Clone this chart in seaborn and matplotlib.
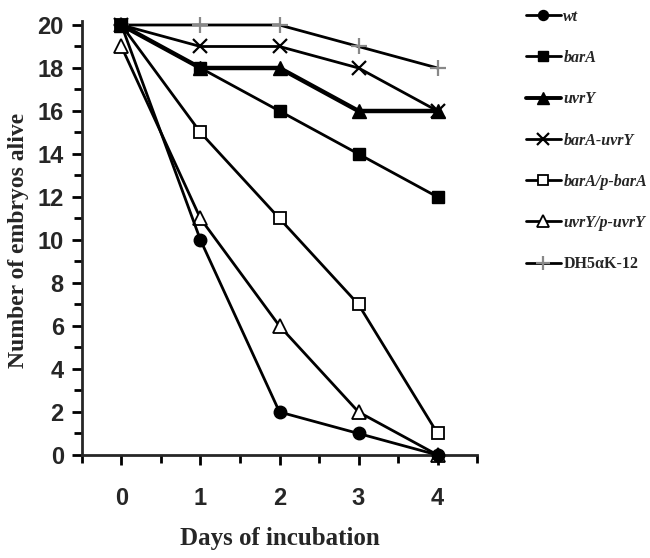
import matplotlib
matplotlib.use("Agg")
import matplotlib.pyplot as plt
import seaborn as sns
import pandas as pd
from matplotlib.lines import Line2D
from matplotlib.ticker import MultipleLocator

days = [0, 1, 2, 3, 4]
wt = [20, 10, 2, 1, 0]
barA = [20, 18, 16, 14, 12]
uvrY = [20, 18, 18, 16, 16]
barA_uvrY = [20, 19, 19, 18, 16]
barA_pbarA = [20, 15, 11, 7, 1]
uvrY_puvrY = [19, 11, 6, 2, 0]
dh5a = [20, 20, 20, 19, 18]

labels = ["wt", "barA", "uvrY", "barA-uvrY", "barA/p-barA", "uvrY/p-uvrY", "DH5αK-12"]
series = [wt, barA, uvrY, barA_uvrY, barA_pbarA, uvrY_puvrY, dh5a]

styles = {
    "wt": dict(marker="o", ms=9, mfc="black", mec="black", lw=2.0, mew=1),
    "barA": dict(marker="s", ms=9, mfc="black", mec="black", lw=2.0, mew=1),
    "uvrY": dict(marker="^", ms=10, mfc="black", mec="black", lw=3.2, mew=1),
    "barA-uvrY": dict(marker="x", ms=10, mfc="black", mec="black", lw=2.0, mew=1.6),
    "barA/p-barA": dict(marker="s", ms=9, mfc="white", mec="black", lw=2.0, mew=1.3),
    "uvrY/p-uvrY": dict(marker="^", ms=10, mfc="white", mec="black", lw=2.0, mew=1.3),
    "DH5αK-12": dict(marker="+", ms=12, mfc="gray", mec="#888888", lw=2.0, mew=1.6),
}

df = pd.concat([pd.DataFrame({"day": days, "alive": s, "strain": l}) for l, s in zip(labels, series)])

sns.set_style("ticks")
fig = plt.figure(figsize=(6.5, 5.58), dpi=100)
ax = fig.add_axes([0.126, 0.1846, 0.608, 0.7706])

order = ["DH5αK-12", "barA-uvrY", "barA/p-barA", "uvrY/p-uvrY", "wt", "uvrY", "barA"]
for l in order:
    st = styles[l]
    sub = df[df.strain == l]
    sns.lineplot(data=sub, x="day", y="alive", ax=ax, color="black", linewidth=st["lw"],
                 marker=st["marker"], markersize=st["ms"], markerfacecolor=st["mfc"],
                 markeredgecolor=st["mec"], markeredgewidth=st["mew"], legend=False,
                 clip_on=False, zorder=3)

ax.set_xlim(-0.5, 4.5)
ax.set_ylim(0, 20)
ax.set_xticks([0, 1, 2, 3, 4])
ax.set_xticks([-0.5, 0.5, 1.5, 2.5, 3.5, 4.5], minor=True)
ax.yaxis.set_major_locator(MultipleLocator(2))
ax.yaxis.set_minor_locator(MultipleLocator(1))
ax.tick_params(axis="both", which="both", direction="out", width=2, color="black")
ax.tick_params(axis="both", which="major", length=7, labelsize=17)
ax.tick_params(axis="both", which="minor", length=6)
ax.tick_params(axis="x", which="major", pad=16)
ax.tick_params(axis="y", which="major", pad=6)
for lab in ax.get_xticklabels() + ax.get_yticklabels():
    lab.set_fontweight("bold")
    lab.set_family("Liberation Sans")
for s in ["top", "right"]:
    ax.spines[s].set_visible(False)
for s in ["left", "bottom"]:
    ax.spines[s].set_linewidth(2)
ax.spines["left"].set_bounds(0, 20.2)

ax.set_xlabel("Days of incubation", fontsize=18, fontweight="bold", family="Liberation Serif", labelpad=12)
ax.set_ylabel("Number of embryos alive", fontsize=17, fontweight="bold", family="Liberation Serif", labelpad=6)

handles = []
for l in labels:
    st = styles[l]
    handles.append(Line2D([0], [0], color="black", linewidth=st["lw"] if l != "uvrY" else 2.8,
                          marker=st["marker"], markersize=st["ms"] * 0.8,
                          markerfacecolor=st["mfc"], markeredgecolor=st["mec"], markeredgewidth=st["mew"]))
leg = fig.legend(handles, labels, loc="upper left", bbox_to_anchor=(0.787, 1.01), frameon=False,
                 handlelength=2.2, handletextpad=0.15, labelspacing=1.58,
                 prop={"family": "Liberation Serif", "weight": "bold", "style": "italic", "size": 11.5})
leg.get_texts()[-1].set_fontstyle("normal")

fig.savefig("out.png", dpi=100, facecolor="white")
